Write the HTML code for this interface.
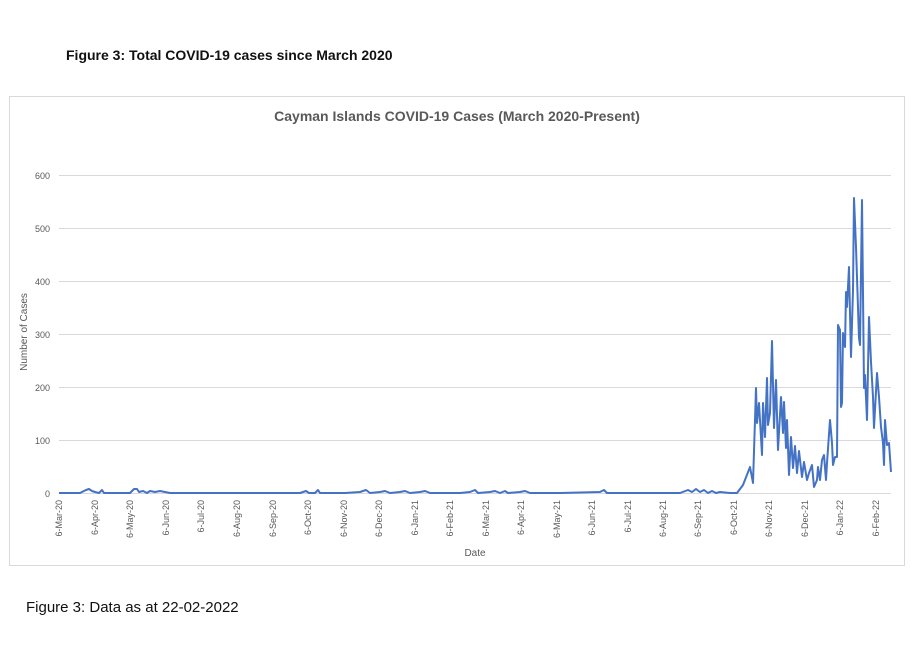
<!DOCTYPE html>
<html><head><meta charset="utf-8"><style>
body{margin:0;background:#fff;width:918px;height:640px;overflow:hidden;font-family:"Liberation Sans",sans-serif}
</style></head><body>
<svg width="918" height="640" viewBox="0 0 918 640" xmlns="http://www.w3.org/2000/svg" font-family="Liberation Sans, sans-serif">
<text x="66" y="60" font-size="14" font-weight="bold" fill="#111">Figure 3: Total COVID-19 cases since March 2020</text>
<rect x="9.5" y="96.5" width="895" height="469" fill="#fff" stroke="#d9d9d9"/>
<text x="457" y="121" font-size="14" font-weight="bold" fill="#595959" text-anchor="middle">Cayman Islands COVID-19 Cases (March 2020-Present)</text>
<g stroke="#d9d9d9" stroke-width="1">
<line x1="59" x2="891" y1="175.5" y2="175.5"/><line x1="59" x2="891" y1="228.5" y2="228.5"/>
<line x1="59" x2="891" y1="281.5" y2="281.5"/><line x1="59" x2="891" y1="334.5" y2="334.5"/>
<line x1="59" x2="891" y1="387.5" y2="387.5"/><line x1="59" x2="891" y1="440.5" y2="440.5"/>
<line x1="59" x2="891" y1="493.5" y2="493.5"/>
</g>
<g font-size="9" fill="#595959" text-anchor="end">
<text x="50" y="179">600</text><text x="50" y="232">500</text><text x="50" y="285">400</text>
<text x="50" y="338">300</text><text x="50" y="391">200</text><text x="50" y="444">100</text><text x="50" y="497">0</text>
</g>
<text transform="translate(27,332) rotate(-90)" font-size="10" fill="#595959" text-anchor="middle">Number of Cases</text>
<text x="475" y="556" font-size="10" fill="#595959" text-anchor="middle">Date</text>
<g font-size="9" fill="#595959" text-anchor="end">
<text transform="translate(62,500) rotate(-90)">6-Mar-20</text>
<text transform="translate(98,500) rotate(-90)">6-Apr-20</text>
<text transform="translate(133,500) rotate(-90)">6-May-20</text>
<text transform="translate(169,500) rotate(-90)">6-Jun-20</text>
<text transform="translate(204,500) rotate(-90)">6-Jul-20</text>
<text transform="translate(240,500) rotate(-90)">6-Aug-20</text>
<text transform="translate(276,500) rotate(-90)">6-Sep-20</text>
<text transform="translate(311,500) rotate(-90)">6-Oct-20</text>
<text transform="translate(347,500) rotate(-90)">6-Nov-20</text>
<text transform="translate(382,500) rotate(-90)">6-Dec-20</text>
<text transform="translate(418,500) rotate(-90)">6-Jan-21</text>
<text transform="translate(453,500) rotate(-90)">6-Feb-21</text>
<text transform="translate(489,500) rotate(-90)">6-Mar-21</text>
<text transform="translate(524,500) rotate(-90)">6-Apr-21</text>
<text transform="translate(560,500) rotate(-90)">6-May-21</text>
<text transform="translate(595,500) rotate(-90)">6-Jun-21</text>
<text transform="translate(631,500) rotate(-90)">6-Jul-21</text>
<text transform="translate(666,500) rotate(-90)">6-Aug-21</text>
<text transform="translate(701,500) rotate(-90)">6-Sep-21</text>
<text transform="translate(737,500) rotate(-90)">6-Oct-21</text>
<text transform="translate(772,500) rotate(-90)">6-Nov-21</text>
<text transform="translate(808,500) rotate(-90)">6-Dec-21</text>
<text transform="translate(843,500) rotate(-90)">6-Jan-22</text>
<text transform="translate(879,500) rotate(-90)">6-Feb-22</text>
</g>
<polyline fill="none" stroke="#4472c4" stroke-width="2" stroke-linejoin="round" points="
59,493 80,493 86,490 89,489 92,491 95,492 99,493 102,490 104,493 110,493 130,493 134,489 137,489 139,492 143,491 147,493 150,491 155,492 160,491 165,492 170,493 200,493 300,493 306,491 309,493 315,493 318,490 320,493 345,493 360,492 366,490 370,493 380,492 385,491 390,493 400,492 405,491 410,493 420,492 425,491 430,493 460,493 470,492 475,490 478,493 490,492 495,491 500,493 505,491 508,493 520,492 525,491 530,493 560,493 600,492 604,490 607,493 640,493 680,493 688,490 692,492 696,489 700,492 704,490 708,493 712,491 716,493 720,492 730,493 737,493
743,485 750,467 753,483 756,388 757,423 759,403 762,455 763,403 765,437 767,378 768,425 770,413 772,341 774,428 776,380 778,450 781,397 783,433 784,402 786,448 787,420 789,475 791,437 793,468 795,446 797,473 799,451 802,477 804,462 807,480 809,473 812,465 814,487 817,480 818,467 820,480 822,460 824,455 826,480 827,463 830,420 832,443 833,465 835,457 837,457 838,325 840,330 841,407 842,403 843,333 845,347 846,292 847,307 849,267 850,313 851,357 853,290 854,198 856,247 859,338 860,345 862,200 864,388 865,375 867,420 869,317 871,362 873,397 874,428 877,373 879,397 881,427 883,443 884,465 885,420 887,445 889,443 891,472"/>
<text x="26" y="612" font-size="15" fill="#111">Figure 3: Data as at 22-02-2022</text>
</svg>
</body></html>
